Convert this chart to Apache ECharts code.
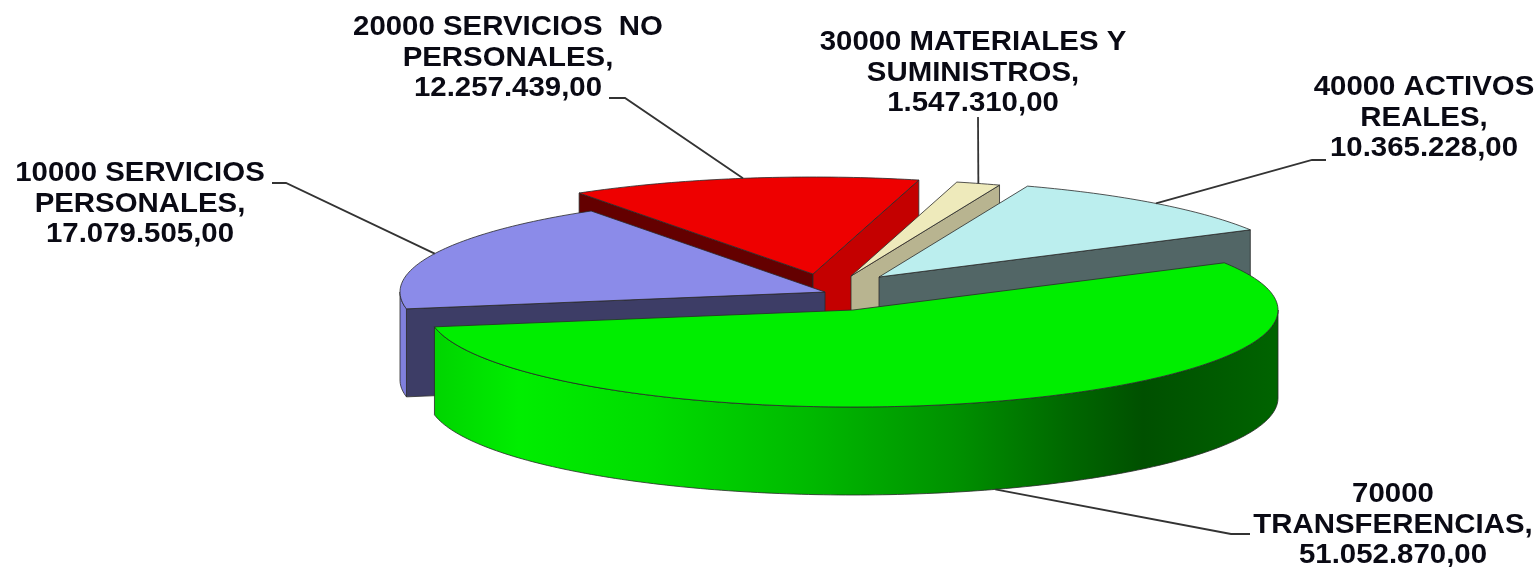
<!DOCTYPE html>
<html>
<head>
<meta charset="utf-8">
<script src="https://cdn.jsdelivr.net/npm/echarts@6/dist/echarts.min.js"></script>
<style>
html, body { margin: 0; padding: 0; background: #fff; }
#chart { width: 1540px; height: 567px; filter: blur(0.6px); }
</style>
</head>
<body>
<div id="chart"></div>
<script>
// data
var categories = [
    '10000 SERVICIOS\nPERSONALES',
    '20000 SERVICIOS  NO\nPERSONALES',
    '30000 MATERIALES Y\nSUMINISTROS',
    '40000 ACTIVOS\nREALES',
    '70000\nTRANSFERENCIAS'
];
var values = [17079505, 12257439, 1547310, 10365228, 51052870];

// look of each slice
var topColors = ['#8b8be9', '#ee0000', '#eeeabb', '#bbeeee', '#00ee00'];
var startWallColors = ['#3d3d66', '#640000', '#b8b490', '#526666', '#005000'];
var endWallColors = ['#3d3d66', '#c40000', '#b8b490', '#526666', '#005000'];
var paintRank = [3, 0, 1, 2, 4];

// the tilted pie: each slice is pulled out to its own apex
var apexX = [825, 813, 851, 879, 853];
var apexY = [292, 274, 276, 277, 310];
var radiusX = 425;
var radiusY = 97;
var depth = 88;
var firstAngle = 260;

// label centres and the elbow of each leader line
var labelX = [140, 508, 973, 1424, 1393];
var labelY = [204, 58, 73, 118, 525];
var leaderX = [[286, 272], [625, 609], [978, 978], [1312, 1326], [1231, 1250]];
var leaderY = [[183, 183], [98, 98], [117, 117], [160, 160], [534, 534]];

var total = 0;
for (var i = 0; i < values.length; i++) {
    total += values[i];
}

function formatValue(v) {
    return String(v).replace(/\B(?=(\d{3})+$)/g, '.') + ',00';
}

function startAngle(index) {
    var sum = 0;
    for (var i = 0; i < index; i++) {
        sum += values[i];
    }
    return (firstAngle + sum / total * 360) % 360;
}

function sinDeg(angle) {
    return Math.sin(angle * Math.PI / 180);
}

// angle is clockwise from straight up
function project(index, angle, down) {
    var a = angle * Math.PI / 180;
    return [
        apexX[index] + radiusX * Math.sin(a),
        apexY[index] - radiusY * Math.cos(a) + (down || 0)
    ];
}

function arcPoints(index, from, to, down) {
    var pts = [];
    var steps = Math.max(2, Math.ceil(Math.abs(to - from)));
    for (var s = 0; s <= steps; s++) {
        pts.push(project(index, from + (to - from) * s / steps, down));
    }
    return pts;
}

function polygon(points, fill, z2) {
    return {
        type: 'polygon',
        silent: true,
        z2: z2,
        shape: { points: points },
        style: { fill: fill, stroke: '#2a2a2a', lineWidth: 0.8 }
    };
}

function radialWall(index, angle, fill, z2) {
    var edge = project(index, angle);
    var apex = [apexX[index], apexY[index]];
    return polygon([apex, edge, [edge[0], edge[1] + depth], [apex[0], apex[1] + depth]], fill, z2);
}

function rimFill(index) {
    if (index === 4) {
        return new echarts.graphic.LinearGradient(0, 0, 1, 0, [
            { offset: 0, color: '#00d400' },
            { offset: 0.1, color: '#00ee00' },
            { offset: 0.26, color: '#00dc00' },
            { offset: 0.45, color: '#00b800' },
            { offset: 0.62, color: '#009000' },
            { offset: 0.75, color: '#006800' },
            { offset: 0.84, color: '#005000' },
            { offset: 1, color: '#006400' }
        ]);
    }
    return '#8080dd';
}

function renderSlice(params, api) {
    var index = params.dataIndex;
    var from = startAngle(index);
    var to = from + api.value(0) / total * 360;
    var rank = paintRank[index] * 10;
    var children = [];

    // a cut wall only shows when it turns toward the viewer
    if (sinDeg(from) < 0) {
        children.push(radialWall(index, from, startWallColors[index], rank));
    }
    if (sinDeg(to) > 0) {
        children.push(radialWall(index, to, endWallColors[index], rank + 1));
    }

    // only the near half of the rim faces the viewer
    var rimFrom = Math.max(from, 90);
    var rimTo = Math.min(to, 270);
    if (rimTo > rimFrom) {
        var rim = arcPoints(index, rimFrom, rimTo, 0)
            .concat(arcPoints(index, rimTo, rimFrom, depth));
        children.push(polygon(rim, rimFill(index), rank + 2));
    }

    var face = [[apexX[index], apexY[index]]].concat(arcPoints(index, from, to, 0));
    children.push(polygon(face, topColors[index], rank + 3));

    // leader line runs from the middle of the slice edge to the label
    var midAngle = (from + to) / 2;
    var mid = project(index, midAngle, midAngle > 90 && midAngle < 270 ? depth : 0);
    children.push({
        type: 'polyline',
        silent: true,
        z2: 100,
        shape: { points: [mid, [leaderX[index][0], leaderY[index][0]], [leaderX[index][1], leaderY[index][1]]] },
        style: { fill: null, stroke: '#333', lineWidth: 1.8 }
    });
    children.push({
        type: 'text',
        silent: true,
        z2: 101,
        x: labelX[index],
        y: labelY[index],
        scaleX: 1.05,
        style: {
            text: categories[index] + ',\n' + formatValue(api.value(0)),
            fontFamily: 'Liberation Sans',
            fontWeight: 'bold',
            fontSize: 28,
            lineHeight: 30.5,
            fill: '#0a0a14',
            align: 'center',
            verticalAlign: 'middle'
        }
    });
    return { type: 'group', children: children };
}

var myChart = echarts.init(document.getElementById('chart'));
var option = {
    backgroundColor: '#fff',
    animation: false,
    series: [
        {
            type: 'custom',
            coordinateSystem: 'none',
            renderItem: renderSlice,
            data: values
        }
    ]
};
myChart.setOption(option);
</script>
</body>
</html>
